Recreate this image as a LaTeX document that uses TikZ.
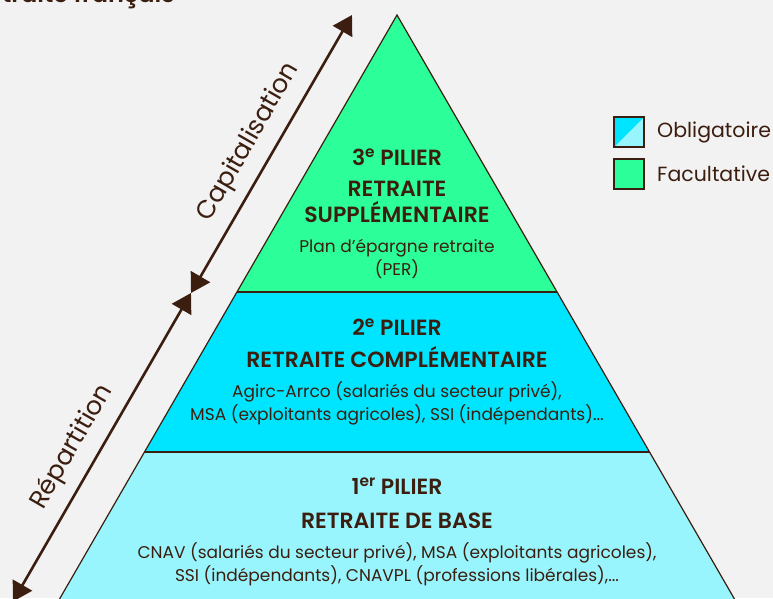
\documentclass[tikz,border=0pt]{standalone}
\usepackage{fontspec}
\setmainfont{Poppins}[BoldFont={Poppins SemiBold}]
\usetikzlibrary{arrows.meta}
\definecolor{bgc}{HTML}{F2F2F2}
\definecolor{ink}{HTML}{3B1E0F}
\definecolor{pgreen}{HTML}{2CFF99}
\definecolor{pcyan}{HTML}{00E5FF}
\definecolor{plight}{HTML}{99F5FD}
\tikzset{
  lvl/.style={draw=ink, line width=1.2pt},
  head/.style={text=ink, font=\fontsize{22}{24}\selectfont\bfseries, anchor=base},
  body/.style={text=ink, font=\fontsize{17}{20}\selectfont, anchor=base},
  dbl/.style={draw=ink, line width=2.6pt, {Triangle[width=22pt,length=19pt]}-{Triangle[width=22pt,length=19pt]}},
  arrlabel/.style={text=ink, font=\fontsize{25.5}{28}\selectfont, rotate=60},
  legbox/.style={draw=ink, line width=1.2pt},
  legtext/.style={text=ink, font=\fontsize{20.5}{24}\selectfont, anchor=west}
}
\begin{document}
\begin{tikzpicture}[x=1pt,y=-1pt]
\useasboundingbox (0,0) rectangle (773,598);
\fill[bgc] (0,0) rectangle (773,598);
\begin{scope}
\clip (0,0) rectangle (773,598);
% title (cut off)
\node[text=ink, font=\fontsize{24}{28}\selectfont\bfseries, anchor=base east] (title) at (178,2) {Le système de retraite français};
% pyramid levels
\coordinate (apex) at (397,15);
\fill[plight] (144.4,452) -- (649.6,452) -- (757,638) -- (37,638) -- cycle;
\fill[pcyan] (237,292) -- (557,292) -- (649.6,452) -- (144.4,452) -- cycle;
\fill[pgreen] (apex) -- (557,292) -- (237,292) -- cycle;
\draw[lvl] (37,638) -- (apex) -- (757,638);
\draw[lvl] (237,292) -- (557,292);
\draw[lvl] (144.4,452) -- (649.6,452);
% arrows
\coordinate (ctop) at (352,15);
\coordinate (cmid) at (191,293);
\coordinate (rbot) at (13,601.5);
\draw[dbl] (cmid) -- (ctop);
\draw[dbl] (rbot) -- (cmid);
\node[arrlabel] (cap) at (249,142) {Capitalisation};
\node[arrlabel] (rep) at (72,447) {Répartition};
\end{scope}
% texts
\node[head] (p3) at (397,165) {3\textsuperscript{e} PILIER};
\node[head] (p3a) at (397,196) {RETRAITE};
\node[head] (p3b) at (397,222) {SUPPLÉMENTAIRE};
\node[body] (p3c) at (397,252) {Plan d'épargne retraite};
\node[body] (p3d) at (397,275) {(PER)};
\node[head] (p2) at (397,335) {2\textsuperscript{e} PILIER};
\node[head] (p2a) at (397,367) {RETRAITE COMPLÉMENTAIRE};
\node[body] (p2b) at (397,397) {Agirc-Arrco (salariés du secteur privé),};
\node[body] (p2c) at (397,420) {MSA (exploitants agricoles), SSI (indépendants)...};
\node[head] (p1) at (397,494) {1\textsuperscript{er} PILIER};
\node[head] (p1a) at (397,528) {RETRAITE DE BASE};
\node[body] (p1b) at (397,558) {CNAV (salariés du secteur privé), MSA (exploitants agricoles),};
\node[body] (p1c) at (397,581) {SSI (indépendants), CNAVPL (professions libérales),...};
% legend
\fill[plight] (614,117) rectangle (644,147);
\fill[pcyan] (614,117) -- (644,117) -- (614,147) -- cycle;
\draw[legbox] (614,117) rectangle (644,147);
\draw[legbox, fill=pgreen] (614,159) rectangle (644,189);
\node[legtext, inner sep=0pt] (l1) at (657,132) {Obligatoire};
\node[legtext, inner sep=0pt] (l2) at (657,174) {Facultative};
\end{tikzpicture}
\end{document}
